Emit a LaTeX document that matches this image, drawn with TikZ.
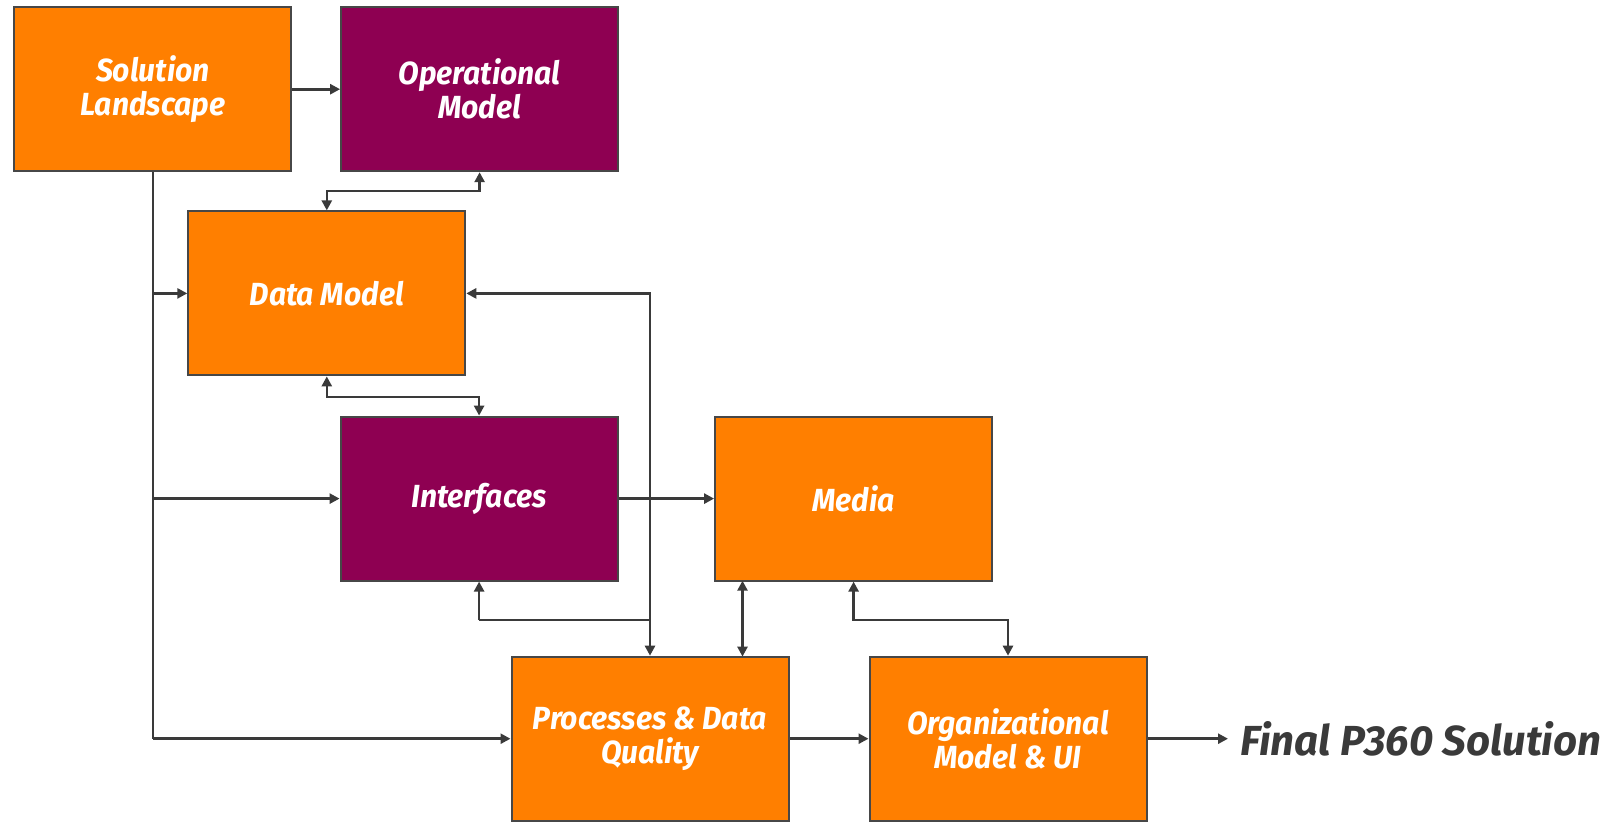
\documentclass[tikz,border=0pt]{standalone}
\usepackage{fontspec}
\setmainfont{Fira Sans}
\newfontfamily\boxfont[FakeStretch=0.94]{Fira Sans}
\newfontfamily\finalfont{Fira Sans}
\usetikzlibrary{arrows.meta}
\definecolor{orng}{HTML}{FF7F00}
\definecolor{purp}{HTML}{8E0052}
\definecolor{edgegray}{HTML}{474747}
\definecolor{linegray}{HTML}{3A3A3A}
\begin{document}
\begin{tikzpicture}[x=1pt,y=-1pt,
  blk/.style={draw=edgegray,line width=2pt,minimum width=277pt,minimum height=164pt,
    inner sep=0pt,text=white,align=center,
    font=\boxfont\bfseries\itshape\fontsize{32}{34}\selectfont},
  orbox/.style={blk,fill=orng},
  pubox/.style={blk,fill=purp},
  conn/.style={draw=linegray,line width=2.6pt,-{Triangle[length=10pt,width=10pt]}},
  bconn/.style={draw=linegray,line width=2.6pt,{Triangle[length=10pt,width=10pt]}-{Triangle[length=10pt,width=10pt]}},
  plain/.style={draw=linegray,line width=2.6pt}
]
\useasboundingbox (0,0) rectangle (1609,822);
\node[orbox] (sl) at (152.9,89.2) {Solution\\Landscape};
\node[pubox] (om) at (479.6,89.2) {Operational\\Model};
\node[orbox] (dm) at (326.8,293.4) {Data Model};
\node[pubox] (if) at (479.1,498.6) {Interfaces};
\node[orbox] (me) at (853.6,498.6) {Media};
\node[orbox] (pd) at (650,738.7) {Processes \& Data\\Quality};
\node[orbox] (or) at (1008,738.7) {Organizational\\Model \& UI};
\node[anchor=west,text=linegray,inner sep=0pt,
  font=\finalfont\bfseries\itshape\fontsize{42}{48}\selectfont] (fin) at (1240,738.7) {Final P360 Solution};

\coordinate (trunkend) at (sl.south |- pd.west);
\coordinate (j1) at (sl.south |- dm.west);
\coordinate (j2) at (sl.south |- if.west);
\coordinate (pdtop2) at (742.5,656.6);
\coordinate (metop2) at (742.5,580.7);

% Solution Landscape -> Operational Model
\draw[conn] (sl.east) -- (om.west);
% trunk
\draw[plain] (sl.south) -- (trunkend);
\draw[conn] (trunkend) -- (pd.west);
\draw[conn] (j1) -- (dm.west);
\draw[conn] (j2) -- (if.west);
% Operational Model <-> Data Model
\draw[bconn] (om.south) -- (om.south |- 0,191) -| (dm.north);
% Data Model <-> Interfaces
\draw[bconn] (dm.south) -- (dm.south |- 0,397) -| (if.north);
% Data Model <-> Processes
\draw[bconn] (dm.east) -| (pd.north);
% Interfaces <-> Processes (joins the vertical)
\draw[conn] (if.south |- 0,620) -- (if.south);
\draw[plain] (if.south |- 0,620) -- (pd.north |- 0,620);
% Interfaces -> Media
\draw[conn] (if.east) -- (me.west);
% Media <-> Processes
\draw[bconn] (metop2) -- (pdtop2);
% Media <-> Organizational
\draw[bconn] (me.south) -- (me.south |- 0,620) -| (or.north);
% Processes -> Organizational
\draw[conn] (pd.east) -- (or.west);
% Organizational -> Final
\draw[conn] (or.east) -- (1228,738.7);
\end{tikzpicture}
\end{document}
